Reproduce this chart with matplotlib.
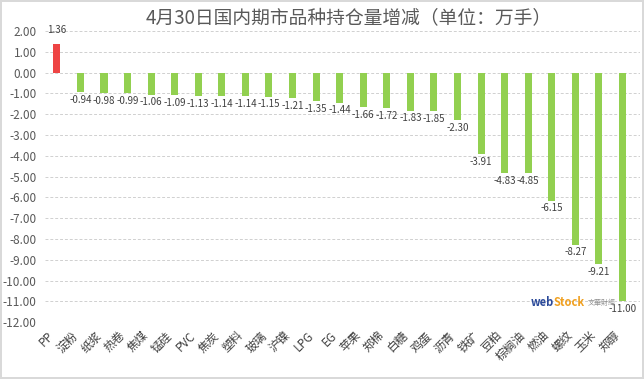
import numpy as np
import matplotlib
matplotlib.use('Agg')
import matplotlib.pyplot as plt

plt.rcParams['font.family'] = ['Noto Sans CJK SC', 'DejaVu Sans']

# ── Data ──
names = ['PP', '淀粉', '纸浆', '热卷', '焦煤', '锰硅', 'PVC', '焦炭', '塑料', '玻璃',
         '沪镍', 'LPG', 'EG', '苹果', '郑棉', '白糖', '鸡蛋', '沥青', '铁矿', '豆粕',
         '棕榈油', '燃油', '螺纹', '玉米', '郑醇']
values = [1.36, -0.94, -0.98, -0.99, -1.06, -1.09, -1.13, -1.14, -1.14, -1.15,
          -1.21, -1.35, -1.44, -1.66, -1.72, -1.83, -1.85, -2.30, -3.91, -4.83,
          -4.85, -6.15, -8.27, -9.21, -11.00]
yticks = np.arange(2, -13, -1)

fig = plt.figure(figsize=(6.44, 3.79), dpi=100)
fig.patch.set_edgecolor('#d9d9d9')
fig.patch.set_linewidth(1.5)
ax = fig.add_axes([0.070, 0.150, 0.924, 0.768])

x = np.arange(len(values))
colors = ['#EE4444' if v > 0 else '#92D050' for v in values]
ax.bar(x, values, width=0.3, color=colors, zorder=3)

for xi, v in zip(x, values):
    if v > 0:
        ax.annotate(f'{v:.2f}', (xi, v), xytext=(0, 7), textcoords='offset points',
                    ha='center', va='bottom', fontsize=7, color='#404040')
    else:
        ax.annotate(f'{v:.2f}', (xi, v), xytext=(0, -2), textcoords='offset points',
                    ha='center', va='top', fontsize=7, color='#404040')

ax.set_ylim(-12, 2)
ax.set_xlim(-0.5, 24.75)
ax.set_yticks(yticks)
ax.set_yticklabels([f'{t:.2f}' for t in yticks], fontsize=8.5, color='#595959')
ax.yaxis.grid(True, color='#d0d0d0', linestyle=(0, (3, 2)), linewidth=0.7, zorder=0)
ax.tick_params(axis='y', length=0, pad=6)

ax.set_xticks(x)
ax.set_xticklabels(names, rotation=45, ha='right', va='top', fontsize=8.5, color='#404040')
ax.tick_params(axis='x', length=0, pad=5)
for s in ax.spines.values():
    s.set_visible(False)

fig.text(0.542, 0.952, '4月30日国内期市品种持仓量增减（单位：万手）', ha='center', va='center',
         fontsize=13.5, color='#595959')

# watermark
ax.text(0.855, 0.068, 'web', transform=ax.transAxes, fontsize=8, fontweight='bold',
        color='#2b4a9a', ha='right', va='center', style='italic')
ax.text(0.855, 0.068, 'Stock', transform=ax.transAxes, fontsize=8, fontweight='bold',
        color='#f0a020', ha='left', va='center', style='italic')
ax.text(0.912, 0.066, '文華財經', transform=ax.transAxes, fontsize=5, color='#909090',
        ha='left', va='center')

fig.savefig('out.png', dpi=100)
